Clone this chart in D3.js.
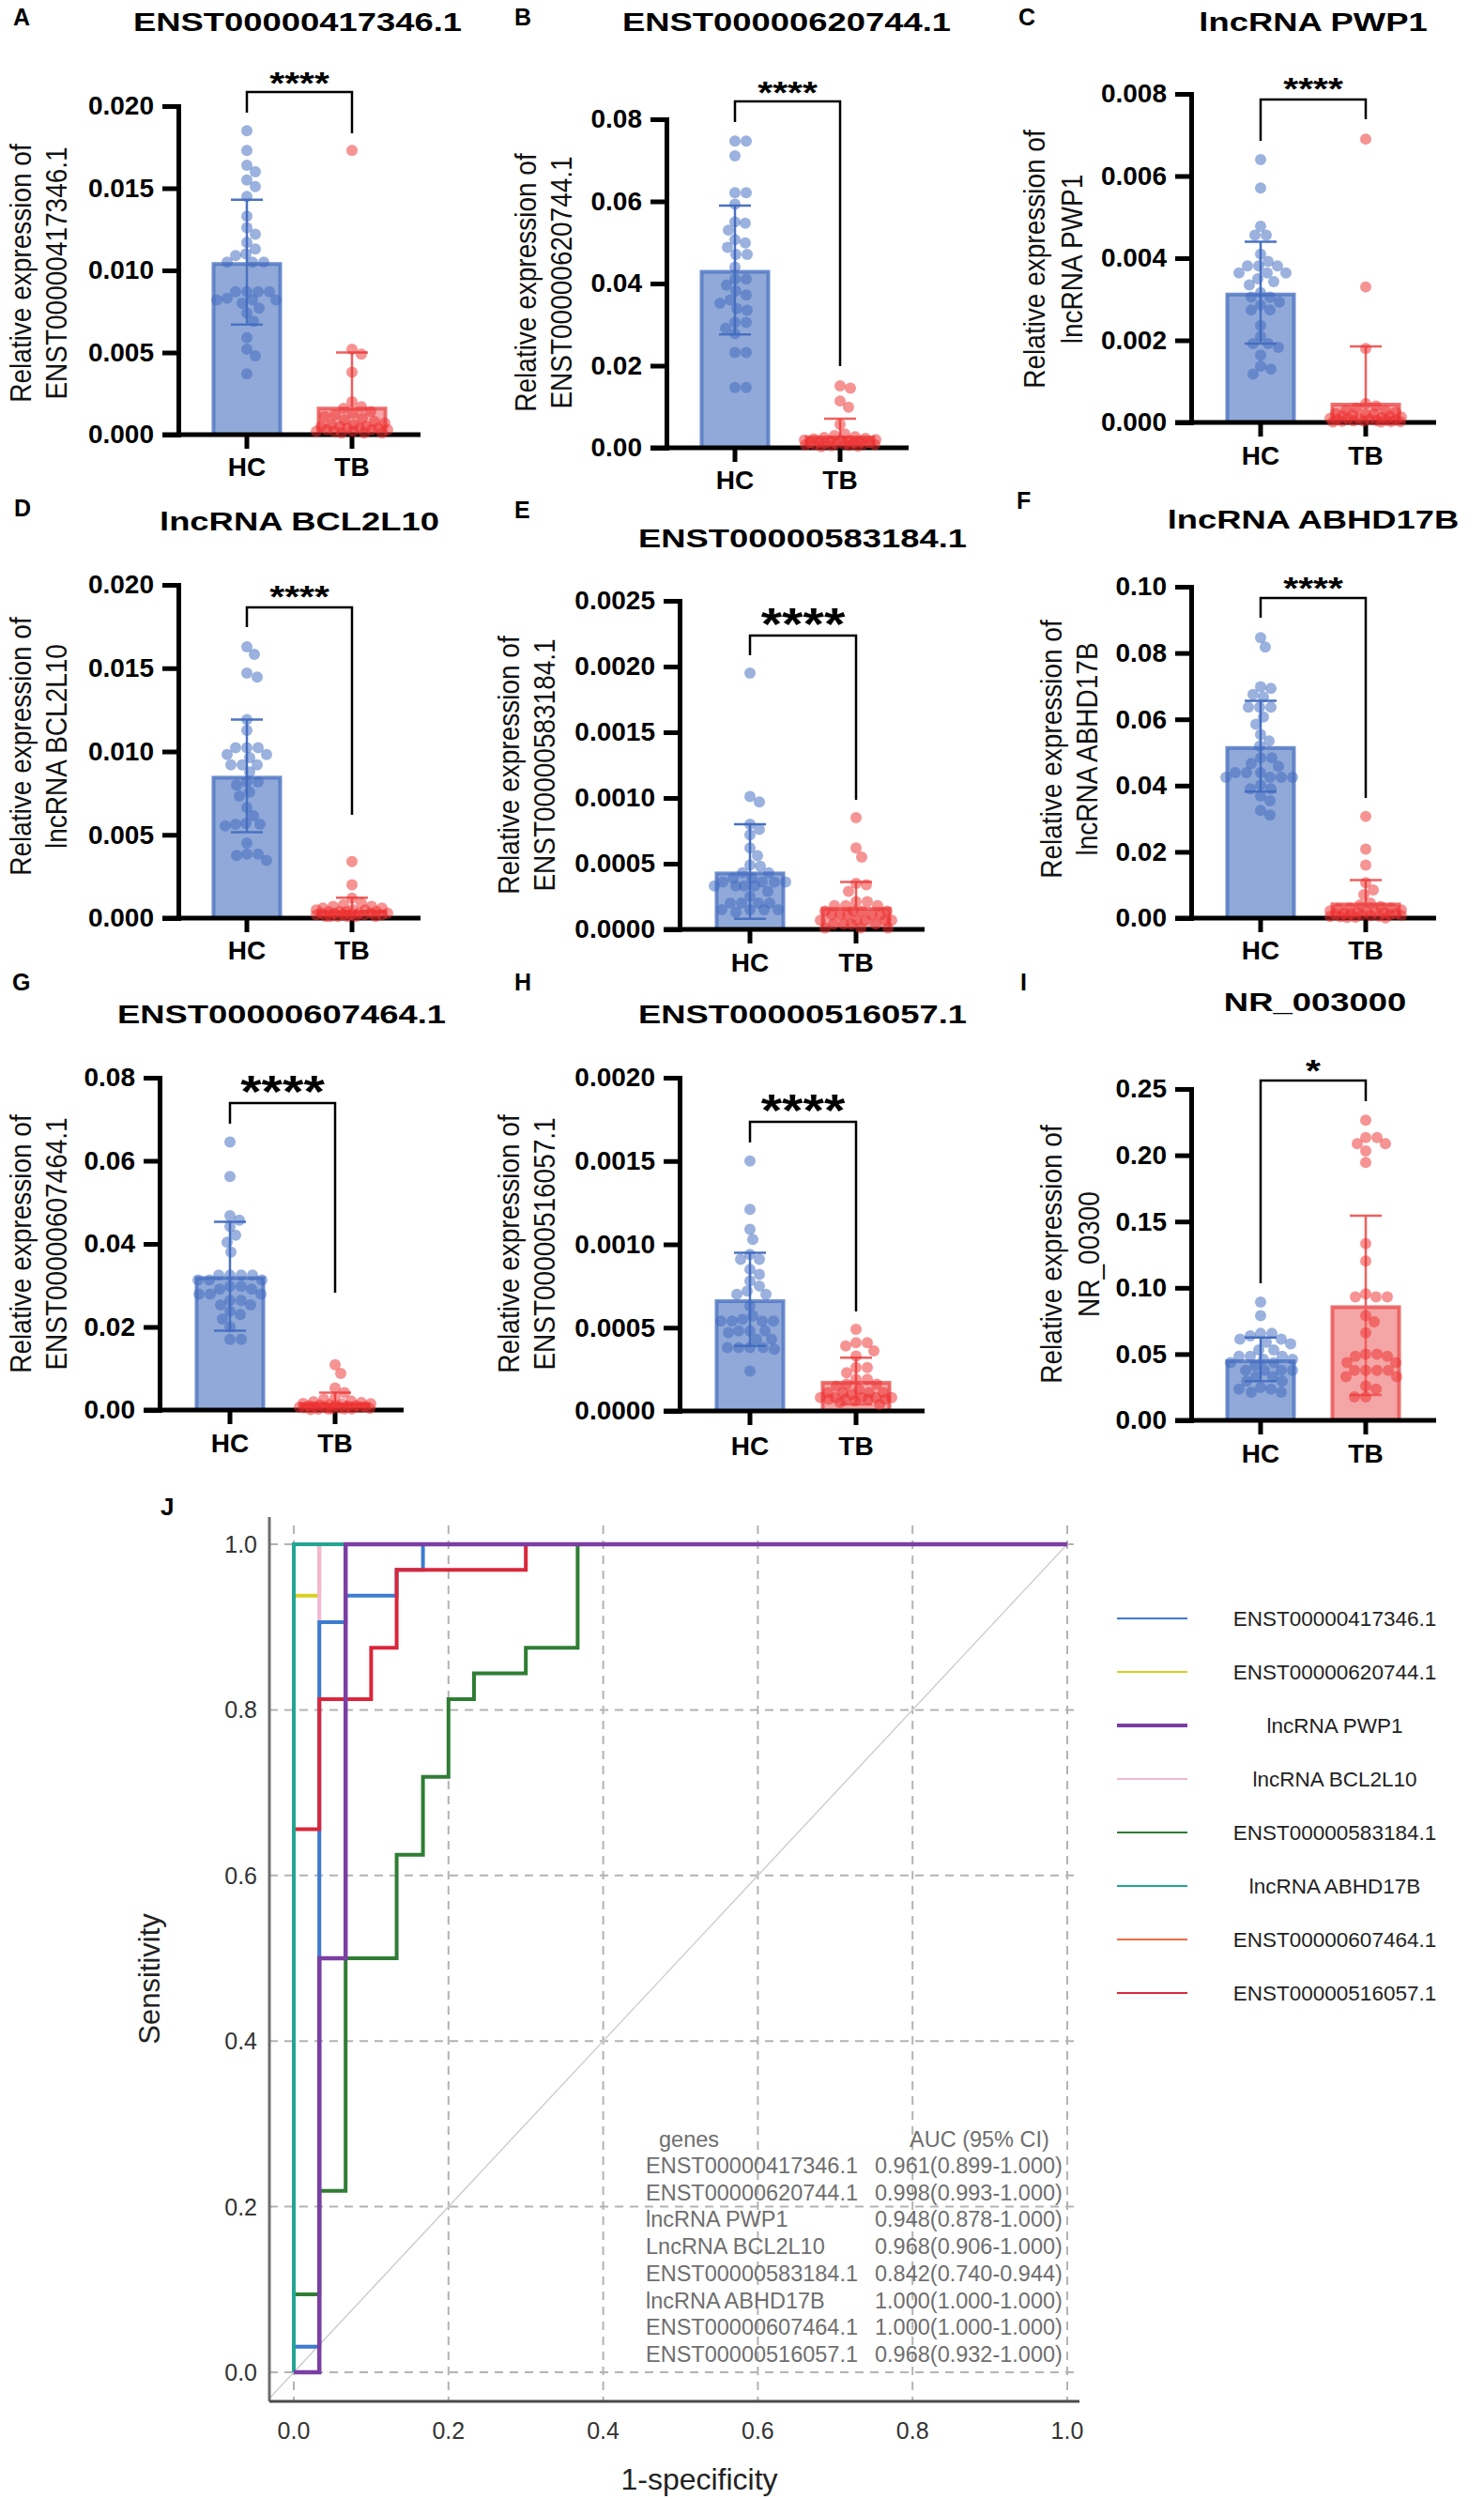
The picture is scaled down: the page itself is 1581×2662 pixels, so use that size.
<!DOCTYPE html>
<html>
<head>
<meta charset="utf-8">
<script src="https://cdn.jsdelivr.net/npm/d3@7"></script>
<style>
  body { margin:0; background:#fff; }
  svg { display:block; }
  text { font-family: "Liberation Sans", Arial, sans-serif; }
</style>
</head>
<body>
<svg id="fig" width="1581" height="2662"></svg>
<script>
// ---------- bar panels: values ----------
var titles = ["ENST00000417346.1", "ENST00000620744.1", "lncRNA PWP1", "lncRNA BCL2L10",
  "ENST00000583184.1", "lncRNA ABHD17B", "ENST00000607464.1", "ENST00000516057.1", "NR_003000"];
var yLabels = ["ENST00000417346.1", "ENST00000620744.1", "lncRNA PWP1", "lncRNA BCL2L10",
  "ENST00000583184.1", "lncRNA ABHD17B", "ENST00000607464.1", "ENST00000516057.1", "NR_00300"];
var letters = ["A", "B", "C", "D", "E", "F", "G", "H", "I"];
var groups = ["HC", "TB"];
var sigLabels = ["****", "****", "****", "****", "****", "****", "****", "****", "*"];
var yMax = [0.020, 0.08, 0.008, 0.020, 0.0025, 0.10, 0.08, 0.0020, 0.25];
var yStep = [0.005, 0.02, 0.002, 0.005, 0.0005, 0.02, 0.02, 0.0005, 0.05];
var yDec = [3, 2, 3, 3, 4, 2, 2, 4, 2];

var hcMean = [0.0105, 0.0433, 0.00316, 0.00854, 0.00044, 0.0519, 0.0322, 0.00067, 0.046];
var hcSD = [0.0038, 0.0157, 0.00124, 0.00338, 0.00036, 0.0137, 0.0131, 0.00028, 0.0165];
var tbMean = [0.0017, 0.0030, 0.00048, 0.00050, 0.00017, 0.0047, 0.0019, 0.00018, 0.0868];
var tbSD = [0.0033, 0.0041, 0.00137, 0.00072, 0.00019, 0.0068, 0.0023, 0.00014, 0.0676];

var hcA = [0.0185,0.0173,0.0164,0.0160,0.0155,0.0151,0.0145,0.0133,0.0126,0.0122,0.0117,0.0113,0.0110,0.0109,0.0105,0.0105,0.0105,0.0087,0.0087,0.0087,0.0087,0.0082,0.0082,0.0082,0.0083,0.0080,0.0077,0.0074,0.0069,0.0059,0.0052,0.0048,0.0037];
var tbA = [0.0173,0.0052,0.0049,0.0038,0.0020,0.0017,0.0016,0.0014,0.0013,0.0012,0.0011,0.0010,0.0009,0.0008,0.0007,0.0006,0.0006,0.0005,0.0005,0.0005,0.0004,0.0004,0.0004,0.0003,0.0003,0.0003,0.0002,0.0002,0.0002,0.0001,0.0001,0.0001];
var hcB = [0.0747,0.0747,0.0711,0.0621,0.0621,0.0593,0.0550,0.0547,0.0530,0.0507,0.0499,0.0488,0.0471,0.0471,0.0440,0.0411,0.0411,0.0396,0.0382,0.0372,0.0360,0.0352,0.0339,0.0335,0.0305,0.0305,0.0291,0.0278,0.0232,0.0232,0.0147,0.0147];
var tbB = [0.0151,0.0145,0.0114,0.0099,0.0057,0.0034,0.0030,0.0027,0.0025,0.0023,0.0022,0.0020,0.0019,0.0018,0.0017,0.0016,0.0015,0.0014,0.0013,0.0012,0.0012,0.0011,0.0010,0.0010,0.0009,0.0008,0.0008,0.0007,0.0006,0.0005,0.0004,0.0003];
var hcC = [0.00640,0.00571,0.00478,0.00456,0.00456,0.00410,0.00392,0.00381,0.00381,0.00381,0.00364,0.00364,0.00364,0.00350,0.00343,0.00335,0.00316,0.00305,0.00305,0.00293,0.00286,0.00274,0.00274,0.00236,0.00210,0.00192,0.00192,0.00183,0.00164,0.00137,0.00130,0.00118];
var tbC = [0.0069,0.0033,0.0018,0.00046,0.00040,0.00035,0.00030,0.00028,0.00025,0.00022,0.00020,0.00020,0.00018,0.00016,0.00015,0.00013,0.00012,0.00010,0.00010,0.00009,0.00008,0.00007,0.00006,0.00005,0.00005,0.00004,0.00003,0.00003,0.00002,0.00002,0.00001,0.00001];
var hcD = [0.01628,0.01583,0.01470,0.01446,0.01192,0.01127,0.01023,0.01023,0.01023,0.00982,0.00982,0.00963,0.00920,0.00920,0.00920,0.00877,0.00817,0.00817,0.00798,0.00757,0.00732,0.00663,0.00614,0.00563,0.00563,0.00554,0.00569,0.00451,0.00385,0.00385,0.00376,0.00347];
var tbD = [0.0034,0.0020,0.0012,0.0009,0.0008,0.0007,0.0007,0.0006,0.0006,0.0005,0.0005,0.0005,0.0004,0.0004,0.0004,0.0004,0.0003,0.0003,0.0003,0.0003,0.0003,0.0002,0.0002,0.0002,0.0002,0.0002,0.0001,0.0001,0.0001,0.0001,0.0001,0.0001];
var hcE = [0.00195,0.00101,0.00097,0.00080,0.00076,0.00072,0.00062,0.00056,0.00049,0.00048,0.00043,0.00043,0.00039,0.00039,0.00036,0.00036,0.00036,0.00036,0.00033,0.00033,0.00033,0.00033,0.00029,0.00025,0.00020,0.00020,0.00020,0.00020,0.00015,0.00015,0.00015,0.00015,0.00013];
var tbE = [0.00085,0.00062,0.00055,0.00035,0.00034,0.00029,0.00021,0.00021,0.00018,0.00018,0.00018,0.00014,0.00014,0.00014,0.00014,0.00011,0.00011,0.00011,0.00011,0.00011,0.00007,0.00007,0.00007,0.00007,0.00007,0.00004,0.00004,0.00004,0.00004,0.00001,0.00001,0.00001];
var hcF = [0.0846,0.0818,0.0698,0.0693,0.0675,0.0667,0.0637,0.0637,0.0637,0.0607,0.0585,0.0554,0.0535,0.0519,0.0484,0.0484,0.0467,0.0458,0.0439,0.0439,0.0439,0.0425,0.0425,0.0425,0.0425,0.0401,0.0390,0.0390,0.0368,0.0354,0.0325,0.0311];
var tbF = [0.0307,0.0208,0.0160,0.0107,0.0085,0.0071,0.0045,0.0040,0.0035,0.0030,0.0030,0.0028,0.0025,0.0022,0.0020,0.0020,0.0018,0.0016,0.0015,0.0013,0.0012,0.0010,0.0010,0.0009,0.0008,0.0007,0.0006,0.0005,0.0004,0.0003,0.0002,0.0001];
var hcG = [0.0645,0.0562,0.0468,0.0457,0.0442,0.0421,0.0404,0.0380,0.0325,0.0325,0.0325,0.0325,0.0313,0.0313,0.0313,0.0298,0.0298,0.0291,0.0291,0.0279,0.0279,0.0279,0.0264,0.0264,0.0253,0.0253,0.0238,0.0230,0.0219,0.0200,0.0170,0.0170];
var tbG = [0.0109,0.0088,0.0053,0.0042,0.0028,0.0026,0.0022,0.0020,0.0018,0.0016,0.0015,0.0014,0.0013,0.0012,0.0011,0.0010,0.0010,0.0009,0.0008,0.0008,0.0007,0.0006,0.0006,0.0005,0.0005,0.0004,0.0004,0.0003,0.0003,0.0002,0.0002,0.0001];
var hcH = [0.00150,0.00121,0.00109,0.00103,0.00094,0.00091,0.00091,0.00085,0.00082,0.00078,0.00075,0.00072,0.00070,0.00070,0.00063,0.00057,0.00055,0.00054,0.00054,0.00054,0.00054,0.00048,0.00048,0.00048,0.00047,0.00043,0.00043,0.00038,0.00038,0.00038,0.00038,0.00037,0.00024];
var tbH = [0.00049,0.00041,0.00041,0.00039,0.00036,0.00033,0.00026,0.00026,0.00023,0.00019,0.00019,0.00016,0.00016,0.00015,0.00013,0.00011,0.00011,0.00011,0.00011,0.00010,0.00008,0.00008,0.00008,0.00008,0.00008,0.00007,0.00007,0.00007,0.00007,0.00006,0.00005,0.00004];
var hcI = [0.0892,0.0790,0.0656,0.0656,0.0637,0.0613,0.0613,0.0590,0.0578,0.0531,0.0531,0.0483,0.0483,0.0483,0.0460,0.0460,0.0436,0.0436,0.0413,0.0377,0.0377,0.0377,0.0377,0.0330,0.0330,0.0295,0.0295,0.0248,0.0236,0.0236,0.0212,0.0212];
var tbI = [0.2264,0.2134,0.2134,0.2087,0.2087,0.2033,0.1946,0.1333,0.1203,0.0955,0.0932,0.0932,0.0932,0.0790,0.0743,0.0660,0.0500,0.0500,0.0483,0.0483,0.0436,0.0436,0.0377,0.0377,0.0377,0.0377,0.0330,0.0330,0.0259,0.0236,0.0177,0.0177];

var hcData = [hcA, hcB, hcC, hcD, hcE, hcF, hcG, hcH, hcI];
var tbData = [tbA, tbB, tbC, tbD, tbE, tbF, tbG, tbH, tbI];

// ---------- ROC panel ----------
var rocNames = ["ENST00000417346.1", "ENST00000620744.1", "lncRNA PWP1", "lncRNA BCL2L10",
  "ENST00000583184.1", "lncRNA ABHD17B", "ENST00000607464.1", "ENST00000516057.1"];
var rocColors = ["#3b7dd0", "#d9cf22", "#7b3fa3", "#f4b6d3", "#2f7d34", "#22a592", "#f06a42", "#d9263c"];
// false positive rate / sensitivity corners of each step curve
var fpr417346 = [0, 0.033, 0.067, 0.133, 0.167, 1];
var tpr417346 = [0, 0.031, 0.906, 0.938, 0.969, 1];
var fpr620744 = [0, 0.033, 1];
var tpr620744 = [0, 0.938, 1];
var fprPWP1 = [0, 0.033, 0.067, 1];
var tprPWP1 = [0, 0, 0.5, 1];
var fprBCL2L10 = [0, 0.033, 1];
var tprBCL2L10 = [0, 0.031, 1];
var fpr583184 = [0, 0.033, 0.067, 0.133, 0.167, 0.2, 0.233, 0.3, 0.367, 1];
var tpr583184 = [0, 0.094, 0.219, 0.5, 0.625, 0.719, 0.813, 0.844, 0.875, 1];
var fprABHD17B = [0, 1];
var tprABHD17B = [0, 1];
var fpr607464 = [0, 1];
var tpr607464 = [0, 1];
var fpr516057 = [0, 0.033, 0.1, 0.133, 0.3, 1];
var tpr516057 = [0, 0.656, 0.813, 0.875, 0.969, 1];
var rocFpr = [fpr417346, fpr620744, fprPWP1, fprBCL2L10, fpr583184, fprABHD17B, fpr607464, fpr516057];
var rocTpr = [tpr417346, tpr620744, tprPWP1, tprBCL2L10, tpr583184, tprABHD17B, tpr607464, tpr516057];
var rocTicks = [0, 0.2, 0.4, 0.6, 0.8, 1.0];

var aucGenes = ["ENST00000417346.1", "ENST00000620744.1", "lncRNA PWP1", "LncRNA BCL2L10",
  "ENST00000583184.1", "lncRNA ABHD17B", "ENST00000607464.1", "ENST00000516057.1"];
var aucValues = ["0.961(0.899-1.000)", "0.998(0.993-1.000)", "0.948(0.878-1.000)", "0.968(0.906-1.000)",
  "0.842(0.740-0.944)", "1.000(1.000-1.000)", "1.000(1.000-1.000)", "0.968(0.932-1.000)"];

// ---------- layout (pixels) ----------
var layout = [
  {ax:190, yTop:113, y0:463, hc:263, tb:375, right:448, tx:317, ty:33, lx:14, ly:27, lab:[22,60], labY:291, sy:100, ss:34, brTop:98, brL:120, brR:142, cat:507},
  {ax:710, yTop:127, y0:477, hc:783, tb:895, right:968, tx:838, ty:33, lx:548, ly:27, lab:[560,598], labY:301, sy:110, ss:34, brTop:108, brL:130, brR:390, cat:521},
  {ax:1269, yTop:100, y0:450, hc:1343, tb:1455, right:1530, tx:1399, ty:33, lx:1085, ly:27, lab:[1102,1142], labY:276, sy:106, ss:34, brTop:106, brL:150, brR:127, cat:495},
  {ax:190, yTop:623, y0:978, hc:263, tb:375, right:448, tx:319, ty:565, lx:15, ly:550, lab:[22,60], labY:795, sy:647, ss:34, brTop:647, brL:668, brR:868, cat:1022},
  {ax:724, yTop:640, y0:990, hc:799, tb:912, right:985, tx:855, ty:583, lx:548, ly:552, lab:[542,580], labY:815, sy:681, ss:48, brTop:677, brL:698, brR:852, cat:1035},
  {ax:1269, yTop:625, y0:978, hc:1343, tb:1455, right:1530, tx:1399, ty:563, lx:1083, ly:542, lab:[1120,1158], labY:798, sy:638, ss:34, brTop:637, brL:658, brR:850, cat:1022},
  {ax:170, yTop:1148, y0:1502, hc:245, tb:357, right:430, tx:300, ty:1090, lx:13, ly:1055, lab:[22,60], labY:1325, sy:1179, ss:48, brTop:1175, brL:1197, brR:1377, cat:1547},
  {ax:724, yTop:1148, y0:1503, hc:799, tb:912, right:985, tx:855, ty:1090, lx:548, ly:1055, lab:[542,580], labY:1325, sy:1199, ss:48, brTop:1195, brL:1217, brR:1397, cat:1550},
  {ax:1269, yTop:1160, y0:1513, hc:1343, tb:1455, right:1530, tx:1401, ty:1077, lx:1087, ly:1055, lab:[1120,1160], labY:1336, sy:1152, ss:34, brTop:1151, brL:1367, brR:1173, cat:1558}
];

var svg = d3.select("#fig");
svg.append("rect").attr("width", 1581).attr("height", 2662).attr("fill", "#fff");

var BAR_W = 75, R = 6;
var styles = {
  HC: {fill:"#90a9d8", stroke:"#5479c4", dot:"#3f69c0", err:"#4a72c0"},
  TB: {fill:"#f4a5a5", stroke:"#ec5656", dot:"#ee2f2f", err:"#ef5f5f"}
};

// simple deterministic beeswarm: nearest free horizontal slot
function swarm(vals, y, cx) {
  var placed = [];
  var minD = 2 * R * 0.92, maxOff = 38;
  vals.slice().sort(function(a, b) { return b - a; }).forEach(function(v) {
    var py = y(v), ok = null, fb = cx, fbD = -1;
    for (var k = 0; k <= maxOff * 2; k++) {
      var off = (k % 2 ? 1 : -1) * Math.ceil(k / 2);
      var px = cx + off, dmin = Infinity;
      placed.forEach(function(p) {
        var d = Math.hypot(p.x - px, p.y - py);
        if (d < dmin) dmin = d;
      });
      if (dmin >= minD) { ok = px; break; }
      if (dmin > fbD) { fbD = dmin; fb = px; }
    }
    placed.push({x: ok !== null ? ok : fb, y: py});
  });
  return placed;
}

layout.forEach(function(L, i) {
  var g = svg.append("g");
  var y = d3.scaleLinear().domain([0, yMax[i]]).range([L.y0, L.yTop]);
  var xPos = {HC: L.hc, TB: L.tb};
  var sets = [
    {name:"HC", vals:hcData[i], mean:hcMean[i], sd:hcSD[i]},
    {name:"TB", vals:tbData[i], mean:tbMean[i], sd:tbSD[i]}
  ];

  // bars
  sets.forEach(function(s) {
    var st = styles[s.name];
    g.append("rect")
      .attr("x", xPos[s.name] - BAR_W / 2 + 2).attr("width", BAR_W - 4)
      .attr("y", y(s.mean) + 2).attr("height", y(0) - y(s.mean) - 2)
      .attr("fill", st.fill).attr("stroke", st.stroke).attr("stroke-width", 4)
      .attr("stroke-opacity", 0.85);
  });

  // axes
  var yAx = g.append("g").attr("transform", "translate(" + L.ax + ",0)")
    .call(d3.axisLeft(y)
      .tickValues(d3.range(0, yMax[i] + yStep[i] / 2, yStep[i]))
      .tickSize(17).tickSizeOuter(0).tickPadding(9)
      .tickFormat(d3.format("." + yDec[i] + "f")));
  yAx.select(".domain").attr("stroke", "#000").attr("stroke-width", 5).attr("stroke-linecap", "square");
  yAx.selectAll(".tick line").attr("stroke", "#000").attr("stroke-width", 5);
  yAx.selectAll(".tick text").attr("font-size", 28).attr("font-weight", "bold")
    .attr("fill", "#000").attr("font-family", "Liberation Sans, Arial, sans-serif");

  g.append("line").attr("x1", L.ax - 17).attr("x2", L.right)
    .attr("y1", L.y0).attr("y2", L.y0).attr("stroke", "#000").attr("stroke-width", 5);
  groups.forEach(function(c) {
    g.append("line").attr("x1", xPos[c]).attr("x2", xPos[c])
      .attr("y1", L.y0).attr("y2", L.y0 + 15).attr("stroke", "#000").attr("stroke-width", 5);
    g.append("text").attr("x", xPos[c]).attr("y", L.cat).attr("text-anchor", "middle")
      .attr("font-size", 28).attr("font-weight", "bold").text(c);
  });

  // error bars (SD)
  sets.forEach(function(s) {
    var st = styles[s.name], cx = xPos[s.name];
    var lo = s.mean - s.sd > 0 ? s.mean - s.sd : s.mean;
    g.append("line").attr("x1", cx).attr("x2", cx).attr("y1", y(lo)).attr("y2", y(s.mean + s.sd))
      .attr("stroke", st.err).attr("stroke-width", 2.5);
    g.append("line").attr("x1", cx - 17).attr("x2", cx + 17)
      .attr("y1", y(s.mean + s.sd)).attr("y2", y(s.mean + s.sd))
      .attr("stroke", st.err).attr("stroke-width", 2.5);
    if (s.mean - s.sd > 0) {
      g.append("line").attr("x1", cx - 17).attr("x2", cx + 17)
        .attr("y1", y(lo)).attr("y2", y(lo)).attr("stroke", st.err).attr("stroke-width", 2.5);
    }
  });

  // dots
  sets.forEach(function(s) {
    var st = styles[s.name];
    g.append("g").selectAll("circle").data(swarm(s.vals, y, xPos[s.name])).enter()
      .append("circle").attr("cx", function(d) { return d.x; }).attr("cy", function(d) { return d.y; })
      .attr("r", R).attr("fill", st.dot).attr("fill-opacity", 0.52);
  });

  // significance bracket
  g.append("path")
    .attr("d", "M" + L.hc + "," + L.brL + "V" + L.brTop + "H" + L.tb + "V" + L.brR)
    .attr("fill", "none").attr("stroke", "#000").attr("stroke-width", 2.5);
  g.append("text").attr("text-anchor", "middle")
    .attr("transform", "translate(" + ((L.hc + L.tb) / 2) + "," + L.sy + ") scale(1.2,1)")
    .attr("font-size", L.ss).attr("font-weight", "bold").text(sigLabels[i]);

  // titles, letters, axis label
  g.append("text").attr("text-anchor", "middle")
    .attr("transform", "translate(" + L.tx + "," + L.ty + ") scale(1.3,1)")
    .attr("font-size", 28).attr("font-weight", "bold").text(titles[i]);
  g.append("text").attr("x", L.lx).attr("y", L.ly)
    .attr("font-size", 25).attr("font-weight", "bold").text(letters[i]);
  ["Relative expression of", yLabels[i]].forEach(function(t, k) {
    g.append("text").attr("text-anchor", "middle").attr("dominant-baseline", "central")
      .attr("transform", "translate(" + L.lab[k] + "," + L.labY + ") rotate(-90) scale(1,1.12)")
      .attr("font-size", 28).attr("fill", "#111").text(t);
  });
});

// ---------- J: ROC ----------
var xR = d3.scaleLinear().domain([0, 1]).range([313, 1137]);
var yR = d3.scaleLinear().domain([0, 1]).range([2527, 1645]);
var roc = svg.append("g");
var AX_L = 287, AX_B = 2558, AX_T = 1616, AX_R = 1150;

rocTicks.forEach(function(v) {
  roc.append("line").attr("x1", xR(v)).attr("x2", xR(v)).attr("y1", 1625).attr("y2", AX_B)
    .attr("stroke", "#b3b3b3").attr("stroke-width", 2).attr("stroke-dasharray", "9,7");
  roc.append("line").attr("x1", AX_L).attr("x2", AX_R).attr("y1", yR(v)).attr("y2", yR(v))
    .attr("stroke", "#b3b3b3").attr("stroke-width", 2).attr("stroke-dasharray", "9,7");
  roc.append("text").attr("x", 274).attr("y", yR(v)).attr("text-anchor", "end")
    .attr("dominant-baseline", "central").attr("font-family", "DejaVu Sans Mono, monospace")
    .attr("font-size", 25).attr("fill", "#333").text(d3.format(".1f")(v));
  roc.append("text").attr("x", xR(v)).attr("y", 2589).attr("text-anchor", "middle")
    .attr("dominant-baseline", "central").attr("font-family", "DejaVu Sans Mono, monospace")
    .attr("font-size", 25).attr("fill", "#333").text(d3.format(".1f")(v));
});

// chance line
roc.append("line").attr("x1", xR(-0.032)).attr("y1", yR(-0.032)).attr("x2", xR(1)).attr("y2", yR(1))
  .attr("stroke", "#cfcfcf").attr("stroke-width", 1.5);

roc.append("line").attr("x1", AX_L).attr("x2", AX_L).attr("y1", AX_T).attr("y2", AX_B)
  .attr("stroke", "#6e6e6e").attr("stroke-width", 3);
roc.append("line").attr("x1", AX_L).attr("x2", AX_R).attr("y1", AX_B).attr("y2", AX_B)
  .attr("stroke", "#4a4a4a").attr("stroke-width", 3);

var stepLine = d3.line().x(function(d) { return xR(d[0]); }).y(function(d) { return yR(d[1]); })
  .curve(d3.curveStepBefore);
var drawOrder = [6, 1, 3, 0, 7, 4, 5, 2];
drawOrder.forEach(function(k) {
  var pts = rocFpr[k].map(function(f, j) { return [f, rocTpr[k][j]]; });
  roc.append("path").attr("d", stepLine(pts)).attr("fill", "none")
    .attr("stroke", rocColors[k]).attr("stroke-width", k === 2 ? 4.5 : 4);
});

// legend
rocNames.forEach(function(n, k) {
  var ly = 1724 + k * 57;
  roc.append("line").attr("x1", 1190).attr("x2", 1265).attr("y1", ly).attr("y2", ly)
    .attr("stroke", rocColors[k]).attr("stroke-width", k === 2 ? 4 : 2);
  roc.append("text").attr("x", 1422).attr("y", ly).attr("text-anchor", "middle")
    .attr("dominant-baseline", "central").attr("font-size", 22.5).attr("fill", "#222").text(n);
});

// AUC table
roc.append("text").attr("x", 702).attr("y", 2287).attr("font-size", 23.5).attr("fill", "#6e6e6e").text("genes");
roc.append("text").attr("x", 969).attr("y", 2287).attr("font-size", 23.5).attr("fill", "#6e6e6e").text("AUC (95% CI)");
aucGenes.forEach(function(gname, k) {
  var ty = 2315 + k * 28.7;
  roc.append("text").attr("x", 688).attr("y", ty).attr("font-size", 23.5).attr("fill", "#6e6e6e").text(gname);
  roc.append("text").attr("x", 932).attr("y", ty).attr("font-size", 23.5).attr("fill", "#6e6e6e").text(aucValues[k]);
});

roc.append("text").attr("text-anchor", "middle").attr("dominant-baseline", "central")
  .attr("transform", "translate(159,2108) rotate(-90)").attr("font-size", 31).attr("fill", "#222").text("Sensitivity");
roc.append("text").attr("x", 745).attr("y", 2652).attr("text-anchor", "middle")
  .attr("font-size", 32).attr("fill", "#222").text("1-specificity");
roc.append("text").attr("x", 171).attr("y", 1614).attr("font-size", 26).attr("font-weight", "bold").text("J");
</script>
</body>
</html>
